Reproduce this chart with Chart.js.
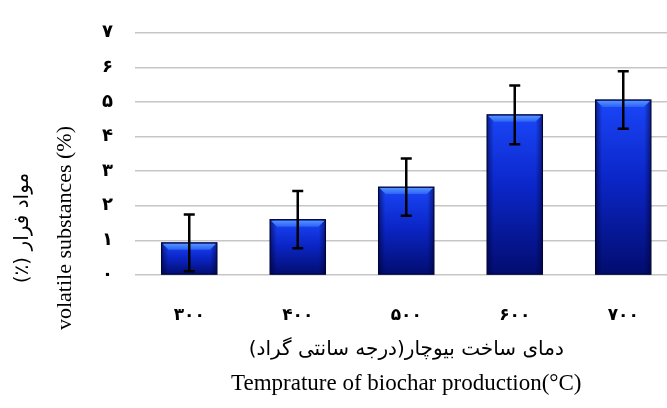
<!DOCTYPE html>
<html>
<head>
<meta charset="utf-8">
<script src="https://cdn.jsdelivr.net/npm/chart.js@4"></script>
<style>
    html, body { margin: 0; padding: 0; background: #fff; overflow: hidden; }
    #wrap { width: 690px; height: 408px; }
</style>
</head>
<body>
<div id="wrap"><canvas id="volatileChart"></canvas></div>
<script>
// Dữ liệu biểu đồ
var categories = ['۳۰۰', '۴۰۰', '۵۰۰', '۶۰۰', '۷۰۰'];
var volatileValues = [0.93, 1.6, 2.54, 4.63, 5.06];
var volatileErrors = [0.82, 0.83, 0.83, 0.85, 0.83];
var yTickLabels = ['۰', '۱', '۲', '۳', '۴', '۵', '۶', '۷'];

var xTitleFa = 'دمای ساخت بیوچار(درجه سانتی گراد)';
var xTitleEn = 'Temprature of biochar production(°C)';
var yTitleFa = 'مواد فرار (٪)';
var yTitleEn = 'volatile substances (%)';

// Gradient dọc cho từng cột
function barGradient(context) {
    var chart = context.chart;
    if (!chart.chartArea || !chart.scales.y) {
        return '#0c2cd0';
    }
    var y = chart.scales.y;
    var top = y.getPixelForValue(volatileValues[context.dataIndex]);
    var bottom = y.getPixelForValue(0);
    var g = chart.ctx.createLinearGradient(0, top, 0, bottom);
    g.addColorStop(0, '#1a46f8');
    g.addColorStop(0.45, '#0b26c8');
    g.addColorStop(1, '#020c6e');
    return g;
}

// Vát cạnh trên + viền tối hai bên, sau đó vẽ thanh sai số
var barDecorPlugin = {
    id: 'barDecor',
    afterDatasetsDraw: function(chart) {
        var ctx = chart.ctx;
        var meta = chart.getDatasetMeta(0);
        var y = chart.scales.y;
        ctx.save();
        meta.data.forEach(function(bar, i) {
            var left = bar.x - bar.width / 2;
            var right = bar.x + bar.width / 2;
            var top = bar.y;
            var base = bar.base;
            var bevel = 7;

            // bóng tối hai bên cột
            var side = ctx.createLinearGradient(left, 0, right, 0);
            side.addColorStop(0, 'rgba(0,0,50,0.55)');
            side.addColorStop(0.12, 'rgba(0,0,50,0)');
            side.addColorStop(0.88, 'rgba(0,0,50,0)');
            side.addColorStop(1, 'rgba(0,0,50,0.55)');
            ctx.fillStyle = side;
            ctx.fillRect(left, top, right - left, base - top);

            // mặt vát sáng phía trên
            var hl = ctx.createLinearGradient(0, top, 0, top + bevel);
            hl.addColorStop(0, '#5a9aff');
            hl.addColorStop(1, '#2c62f6');
            ctx.fillStyle = hl;
            ctx.beginPath();
            ctx.moveTo(left + 1, top + 1);
            ctx.lineTo(right - 1, top + 1);
            ctx.lineTo(right - bevel, top + bevel);
            ctx.lineTo(left + bevel, top + bevel);
            ctx.closePath();
            ctx.fill();

            // viền cột
            ctx.strokeStyle = '#00053a';
            ctx.lineWidth = 1.2;
            ctx.strokeRect(left, top, right - left, base - top);

            // thanh sai số
            var v = volatileValues[i];
            var e = volatileErrors[i];
            var yHi = y.getPixelForValue(v + e);
            var yLo = y.getPixelForValue(v - e);
            ctx.strokeStyle = '#000';
            ctx.lineWidth = 2.5;
            ctx.beginPath();
            ctx.moveTo(bar.x, yHi);
            ctx.lineTo(bar.x, yLo);
            ctx.moveTo(bar.x - 5.5, yHi);
            ctx.lineTo(bar.x + 5.5, yHi);
            ctx.moveTo(bar.x - 5.5, yLo);
            ctx.lineTo(bar.x + 5.5, yLo);
            ctx.stroke();
        });
        ctx.restore();
    }
};

// Tiêu đề trục (tiếng Ba Tư + tiếng Anh)
var axisTitlePlugin = {
    id: 'axisTitles',
    afterDraw: function(chart) {
        var ctx = chart.ctx;
        var area = chart.chartArea;
        var cx = (area.left + area.right) / 2;
        ctx.save();
        ctx.fillStyle = '#000';
        ctx.textAlign = 'center';
        ctx.textBaseline = 'middle';

        ctx.direction = 'rtl';
        ctx.font = '20px "DejaVu Sans"';
        ctx.fillText(xTitleFa, cx, 350);
        ctx.direction = 'ltr';
        ctx.font = '23px "Liberation Serif"';
        ctx.fillText(xTitleEn, cx, 384);

        ctx.translate(0, 228);
        ctx.rotate(-Math.PI / 2);
        ctx.direction = 'rtl';
        ctx.font = '20px "DejaVu Sans"';
        ctx.fillText(yTitleFa, 0, 23);
        ctx.direction = 'ltr';
        ctx.font = '22px "Liberation Serif"';
        ctx.fillText(yTitleEn, 0, 65);
        ctx.restore();
    }
};

var ctx = document.getElementById('volatileChart').getContext('2d');
var volatileChart = new Chart(ctx, {
    type: 'bar',
    data: {
        labels: categories,
        datasets: [{
            label: yTitleEn,
            data: volatileValues,
            backgroundColor: barGradient,
            borderWidth: 0,
            barPercentage: 0.51,
            categoryPercentage: 1
        }]
    },
    options: {
        responsive: true,
        maintainAspectRatio: false,
        animation: false,
        layout: {
            padding: { top: 30, right: 12.5, left: 0, bottom: 0 }
        },
        plugins: {
            legend: { display: false },
            tooltip: { enabled: false }
        },
        scales: {
            x: {
                grid: { display: false, drawTicks: false },
                border: { display: false },
                ticks: {
                    color: '#000',
                    padding: 30,
                    font: { family: 'DejaVu Sans', size: 17, weight: 'bold' }
                },
                afterFit: function(scale) { scale.height = 133; }
            },
            y: {
                min: 0,
                max: 7,
                grid: { color: '#c6c6c6', lineWidth: 1.6, drawTicks: false },
                border: { display: false },
                ticks: {
                    stepSize: 1,
                    color: '#000',
                    padding: 22,
                    font: { family: 'DejaVu Sans', size: 18, weight: 'bold' },
                    callback: function(value) { return yTickLabels[value]; }
                },
                afterFit: function(scale) { scale.width = 135; }
            }
        }
    },
    plugins: [barDecorPlugin, axisTitlePlugin]
});
</script>
</body>
</html>
